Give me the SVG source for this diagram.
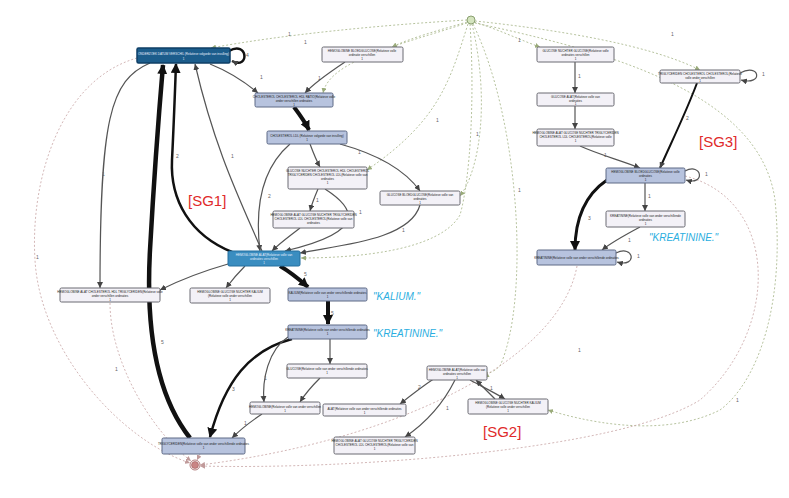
<svg xmlns="http://www.w3.org/2000/svg" width="789" height="498" viewBox="0 0 789 498">
<defs>
<marker id="a" markerWidth="6" markerHeight="6" refX="6" refY="3" orient="auto" markerUnits="userSpaceOnUse"><path d="M0,0 L6,3 L0,6 z" fill="#444"/></marker>
<marker id="aL" markerWidth="10" markerHeight="10" refX="9" refY="5" orient="auto" markerUnits="userSpaceOnUse"><path d="M0,0 L10,5 L0,10 z" fill="#111"/></marker>
<marker id="g" markerWidth="5" markerHeight="5" refX="5" refY="2.5" orient="auto" markerUnits="userSpaceOnUse"><path d="M0,0 L5,2.5 L0,5 z" fill="#9aab7a"/></marker>
<marker id="p" markerWidth="5" markerHeight="5" refX="5" refY="2.5" orient="auto" markerUnits="userSpaceOnUse"><path d="M0,0 L5,2.5 L0,5 z" fill="#c09a9a"/></marker>
</defs>
<style>
.e{fill:none;stroke:#555;stroke-width:1.2}
.t{fill:none;stroke:#111}
.gd{fill:none;stroke:#a4b486;stroke-width:0.8;stroke-dasharray:2,2}
.pd{fill:none;stroke:#c8a4a4;stroke-width:0.8;stroke-dasharray:2,2}
.el{font-family:"Liberation Sans",Arial,sans-serif;font-size:5px;fill:#666}
.lb{fill:#b7c3de;stroke:#5e6a86;stroke-width:1}
.wb{fill:#f3f1f7;stroke:#6a6a72;stroke-width:1}
.db{fill:#1c5d8c;stroke:#0f3f66;stroke-width:1.5}
.mb{fill:#3a8dc0;stroke:#246e9e;stroke-width:1}
.nt{font-family:"Liberation Sans",Arial,sans-serif;font-size:3px;fill:#222;text-anchor:middle}
.nw{font-family:"Liberation Sans",Arial,sans-serif;font-size:3px;fill:#e8f0ff;text-anchor:middle}
.sg{font-family:"Liberation Sans",Arial,sans-serif;font-size:15px;fill:#e02a2a}
.kl{font-family:"Liberation Sans",Arial,sans-serif;font-size:10px;font-style:italic;fill:#2aaee0}
</style>
<rect width="789" height="498" fill="#ffffff"/>
<g id="connectors">
<path class="gd" d="M467,20 C380,25 280,35 211,48" marker-end="url(#g)"/>
<path class="gd" d="M467,22 C440,30 410,38 392,47" marker-end="url(#g)"/>
<path class="gd" d="M467,23 C400,45 330,60 323,93" marker-end="url(#g)"/>
<path class="gd" d="M468,24 C450,80 440,120 367,170" marker-end="url(#g)"/>
<path class="gd" d="M470,24 C475,100 470,180 460,215 C440,250 360,258 301,258" marker-end="url(#g)"/>
<path class="gd" d="M472,24 C490,100 480,170 460,196" marker-end="url(#g)"/>
<path class="gd" d="M474,22 C500,30 520,40 540,47" marker-end="url(#g)"/>
<path class="gd" d="M475,21 C560,30 650,45 700,70" marker-end="url(#g)"/>
<path class="gd" d="M473,24 C520,120 530,300 500,366 C490,375 487,373 487,372" marker-end="url(#g)"/>
<path class="gd" d="M475,23 C600,50 760,90 775,200 C785,300 760,380 720,410 C660,440 580,420 548,410" marker-end="url(#g)"/>
<text class="el" x="288" y="36">1</text>
<text class="el" x="304" y="44">1</text>
<text class="el" x="318" y="80">1</text>
<text class="el" x="436" y="122">1</text>
<text class="el" x="476" y="136">1</text>
<text class="el" x="518" y="42">1</text>
<text class="el" x="671" y="36">1</text>
<text class="el" x="518" y="192">1</text>
<text class="el" x="736" y="402">1</text>
<path class="pd" d="M137,58 C60,80 30,180 35,260 C40,350 120,440 190,463" marker-end="url(#p)"/>
<path class="pd" d="M110,303 C110,360 150,430 191,461" marker-end="url(#p)"/>
<path class="pd" d="M577,266 C560,360 400,440 200,465" marker-end="url(#p)"/>
<path class="pd" d="M685,176 C780,200 780,330 700,400 C620,450 350,470 200,466" marker-end="url(#p)"/>
<path class="pd" d="M200,454 L197,460" marker-end="url(#p)"/>
<text class="el" x="36" y="259">1</text>
<text class="el" x="115" y="371">1</text>
<text class="el" x="578" y="352">1</text>
<path class="t" stroke-width="2.5" d="M229,51 C248,40 250,70 232,61" marker-end="url(#a)"/>
<text class="el" x="246" y="57">4</text>
<path class="e" d="M210,64 C230,72 245,82 258,93" marker-end="url(#a)"/>
<text class="el" x="260" y="79">1</text>
<path class="e" d="M345,62 C330,72 315,82 305,93" marker-end="url(#a)"/>
<path class="t" stroke-width="4" d="M294,107 C300,115 305,122 309,130" marker-end="url(#aL)"/>
<path class="e" d="M310,144 C313,152 316,160 320,167" marker-end="url(#a)"/>
<path class="e" d="M340,144 C380,155 405,170 420,191" marker-end="url(#a)"/>
<text class="el" x="358" y="154">1</text>
<path class="e" d="M290,144 C260,170 255,210 260,251" marker-end="url(#a)"/>
<text class="el" x="268" y="198">2</text>
<path class="e" d="M318,189 C315,196 312,203 310,211" marker-end="url(#a)"/>
<text class="el" x="316" y="202">1</text>
<path class="e" d="M325,189 C350,205 375,230 285,251" marker-end="url(#a)"/>
<text class="el" x="359" y="214">1</text>
<path class="e" d="M420,205 C410,240 340,245 300,253" marker-end="url(#a)"/>
<text class="el" x="402" y="232">1</text>
<path class="e" d="M300,228 C290,236 280,243 272,251" marker-end="url(#a)"/>
<path class="t" stroke-width="2.5" d="M232,252 C190,235 170,200 172,160 C174,120 175,90 176,64" marker-end="url(#aL)"/>
<text class="el" x="176" y="158">2</text>
<path class="e" d="M262,251 C240,200 215,150 195,64" marker-end="url(#a)"/>
<text class="el" x="231" y="158">1</text>
<path class="e" d="M150,63 C110,80 100,120 100,288" marker-end="url(#a)"/>
<text class="el" x="102" y="176">1</text>
<path class="e" d="M228,264 C200,272 180,280 160,290" marker-end="url(#a)"/>
<path class="e" d="M245,266 C238,273 232,280 226,288" marker-end="url(#a)"/>
<path class="t" stroke-width="4" d="M280,266 C292,273 300,280 308,287" marker-end="url(#aL)"/>
<text class="el" x="304" y="276">5</text>
<path class="t" stroke-width="4" d="M328,301 C328,309 328,316 328,324" marker-end="url(#aL)"/>
<text class="el" x="331" y="315">5</text>
<path class="e" d="M330,339 C330,348 330,356 330,364" marker-end="url(#a)"/>
<path class="t" stroke-width="2.5" d="M292,339 C250,350 225,380 210,437" marker-end="url(#aL)"/>
<text class="el" x="232" y="391">3</text>
<path class="e" d="M288,337 C268,350 262,380 264,402" marker-end="url(#a)"/>
<text class="el" x="264" y="380">1</text>
<path class="e" d="M320,378 C312,386 305,394 300,402" marker-end="url(#a)"/>
<path class="e" d="M262,414 C250,422 240,430 232,438" marker-end="url(#a)"/>
<text class="el" x="244" y="425">1</text>
<path class="t" stroke-width="4.5" d="M190,438 C160,400 145,340 150,250 C155,160 160,100 163,65" marker-end="url(#aL)"/>
<text class="el" x="161" y="344">5</text>
<path class="e" d="M435,378 C420,388 410,396 400,404" marker-end="url(#a)"/>
<text class="el" x="418" y="389">2</text>
<path class="e" d="M455,380 C445,400 430,420 405,437" marker-end="url(#a)"/>
<text class="el" x="446" y="410">1</text>
<path class="e" d="M470,380 C485,388 495,393 505,399" marker-end="url(#a)"/>
<path class="e" d="M495,399 C488,392 482,386 476,380" marker-end="url(#a)"/>
<text class="el" x="490" y="390">1</text>
<path class="e" d="M575,62 C575,72 575,82 575,93" marker-end="url(#a)"/>
<text class="el" x="578" y="78">1</text>
<path class="e" d="M575,106 C575,114 575,121 575,129" marker-end="url(#a)"/>
<path class="e" d="M580,146 C600,155 620,160 640,168" marker-end="url(#a)"/>
<text class="el" x="604" y="157">1</text>
<path class="e" d="M740,73 C760,62 764,86 741,80" marker-end="url(#a)"/>
<text class="el" x="762" y="76">1</text>
<path class="t" stroke-width="2" d="M697,83 C685,115 670,145 660,168" marker-end="url(#a)"/>
<text class="el" x="686" y="120">2</text>
<path class="e" d="M685,171 C702,162 706,186 686,180" marker-end="url(#a)"/>
<text class="el" x="705" y="176">1</text>
<path class="e" d="M645,183 C645,192 645,202 645,211" marker-end="url(#a)"/>
<text class="el" x="648" y="198">1</text>
<path class="t" stroke-width="3" d="M607,180 C585,195 575,220 575,250" marker-end="url(#aL)"/>
<text class="el" x="588" y="220">3</text>
<path class="e" d="M640,227 C625,235 612,242 602,250" marker-end="url(#a)"/>
<text class="el" x="628" y="242">1</text>
<path class="e" d="M616,253 C634,244 638,268 617,262" marker-end="url(#a)"/>
<text class="el" x="637" y="258">1</text>
</g>
<g id="start"><circle cx="471" cy="20" r="4" fill="#d4e4be" stroke="#8aa070" stroke-width="1"/></g>
<g id="end"><circle cx="195" cy="465" r="5" fill="none" stroke="#a05a5a" stroke-width="0.8"/><circle cx="195" cy="465" r="3.5" fill="#c98585" stroke="#a05a5a" stroke-width="0.6"/></g>
<g id="nA"><rect class="db" x="137" y="48" width="93" height="15" rx="1.5"/><text class="nw" x="183.5" y="55">ONDERZOEK DATUM VERSCHIL (Relatieve volgorde van invulling)</text><text class="nw" x="183.5" y="60">1</text></g>
<g id="nB"><rect class="lb" x="255" y="93" width="78" height="14" rx="1.5"/><text class="nt" x="294" y="98">CHOLESTEROL CHOLESTEROL HDL     RATIO(Relatieve volle</text><text class="nt" x="294" y="102">onder verschillen ordinaties</text><text class="nt" x="294" y="105.5">1</text></g>
<g id="nC"><rect class="wb" x="322" y="47" width="81" height="15" rx="1.5"/><text class="nt" x="362" y="52">HEMOGLOBINE       BLOEDGLUCOSE(Relatieve volle</text><text class="nt" x="362" y="56">ordinatie verschillen</text><text class="nt" x="362" y="60">1</text></g>
<g id="nD"><rect class="lb" x="267" y="131" width="80" height="13" rx="1.5"/><text class="nt" x="307" y="137">CHOLESTEROL LDL (Relatieve volgorde van invulling)</text><text class="nt" x="307" y="141">1</text></g>
<g id="nE"><rect class="wb" x="288" y="167" width="79" height="22" rx="1.5"/><text class="nt" x="327.5" y="172">GLUCOSE NUCHTER  CHOLESTEROL HDL CHOLESTEROL</text><text class="nt" x="327.5" y="176">TRIGLYCERIDEN  CHOLESTEROL LDL(Relatieve volle van</text><text class="nt" x="327.5" y="180">ordinaties</text><text class="nt" x="327.5" y="184">1</text></g>
<g id="nF"><rect class="wb" x="273" y="211" width="81" height="17" rx="1.5"/><text class="nt" x="313.5" y="216">HEMOGLOBINE ALAT  GLUCOSE NUCHTER TRIGLYCERIDEN</text><text class="nt" x="313.5" y="220">CHOLESTEROL LDL  CHOLESTEROL(Relatieve volle van</text><text class="nt" x="313.5" y="224">ordinaties</text></g>
<g id="nG"><rect class="wb" x="380" y="191" width="80" height="14" rx="1.5"/><text class="nt" x="420" y="196">GLUCOSE          BLOEDGLUCOSE(Relatieve volle van</text><text class="nt" x="420" y="200">ordinaties</text><text class="nt" x="420" y="203.5">1</text></g>
<g id="nH"><rect class="mb" x="228" y="251" width="72" height="15" rx="1.5"/><text class="nw" x="264" y="256">HEMOGLOBINE       ALAT(Relatieve volle van</text><text class="nw" x="264" y="260">ordinaties verschillen</text><text class="nw" x="264" y="264">1</text></g>
<g id="nI"><rect class="wb" x="60" y="288" width="100" height="14" rx="1.5"/><text class="nt" x="110" y="293">HEMOGLOBINE ALAT CHOLESTEROL HDL TRIGLYCERIDEN(Relatieve volle</text><text class="nt" x="110" y="297">onder verschillen ordinaties</text><text class="nt" x="110" y="300.5">1</text></g>
<g id="nJ"><rect class="wb" x="190" y="288" width="80" height="15" rx="1.5"/><text class="nt" x="230" y="293">HEMOGLOBINE  GLUCOSE NUCHTER      KALIUM</text><text class="nt" x="230" y="297">(Relatieve volle onder verschillen</text><text class="nt" x="230" y="301">1</text></g>
<g id="nK"><rect class="lb" x="288" y="288" width="79" height="13" rx="1.5"/><text class="nt" x="327.5" y="294">KALIUM(Relatieve volle van onder verschillende ordinaties</text><text class="nt" x="327.5" y="298">1</text></g>
<g id="nL"><rect class="lb" x="288" y="325" width="79" height="14" rx="1.5"/><text class="nt" x="327.5" y="331">KREATININE(Relatieve volle van onder verschillende ordinaties</text><text class="nt" x="327.5" y="335">1</text></g>
<g id="nM"><rect class="wb" x="287" y="364" width="80" height="14" rx="1.5"/><text class="nt" x="327" y="370">GLUCOSE(Relatieve volle van onder verschillende ordinaties</text><text class="nt" x="327" y="374">1</text></g>
<g id="nN"><rect class="wb" x="250" y="402" width="70" height="12" rx="1.5"/><text class="nt" x="285" y="408">HEMOGLOBINE(Relatieve volle van onder verschillen</text><text class="nt" x="285" y="412">1</text></g>
<g id="nO"><rect class="lb" x="162" y="438" width="83" height="16" rx="1.5"/><text class="nt" x="203.5" y="445">TRIGLYCERIDEN(Relatieve volle van onder verschillende ordinaties</text><text class="nt" x="203.5" y="449">1</text></g>
<g id="nP"><rect class="wb" x="427" y="366" width="60" height="14" rx="1.5"/><text class="nt" x="457" y="371">HEMOGLOBINE       ALAT(Relatieve volle van</text><text class="nt" x="457" y="375">ordinaties verschillen</text><text class="nt" x="457" y="378.5">1</text></g>
<g id="nQ"><rect class="wb" x="323" y="404" width="83" height="12" rx="1.5"/><text class="nt" x="364.5" y="410">ALAT(Relatieve volle van onder verschillende ordinaties</text><text class="nt" x="364.5" y="414">1</text></g>
<g id="nR"><rect class="wb" x="334" y="437" width="81" height="17" rx="1.5"/><text class="nt" x="374.5" y="442">HEMOGLOBINE ALAT  GLUCOSE NUCHTER TRIGLYCERIDEN</text><text class="nt" x="374.5" y="446">CHOLESTEROL LDL  CHOLESTEROL(Relatieve volle van</text><text class="nt" x="374.5" y="450">1</text></g>
<g id="nS"><rect class="wb" x="468" y="399" width="80" height="15" rx="1.5"/><text class="nt" x="508" y="404">HEMOGLOBINE  GLUCOSE NUCHTER      KALIUM</text><text class="nt" x="508" y="408">(Relatieve volle onder verschillen</text><text class="nt" x="508" y="412">1</text></g>
<g id="nT"><rect class="wb" x="537" y="47" width="77" height="15" rx="1.5"/><text class="nt" x="575.5" y="52">GLUCOSE NUCHTER     GLUCOSE(Relatieve volle</text><text class="nt" x="575.5" y="56">ordinaties verschillen</text><text class="nt" x="575.5" y="60">1</text></g>
<g id="nU"><rect class="wb" x="537" y="93" width="77" height="13" rx="1.5"/><text class="nt" x="575.5" y="98">GLUCOSE          ALAT(Relatieve volle van</text><text class="nt" x="575.5" y="102">ordinaties</text><text class="nt" x="575.5" y="105">1</text></g>
<g id="nV"><rect class="wb" x="537" y="129" width="77" height="17" rx="1.5"/><text class="nt" x="575.5" y="134">HEMOGLOBINE ALAT  GLUCOSE NUCHTER TRIGLYCERIDEN</text><text class="nt" x="575.5" y="138">CHOLESTEROL LDL  CHOLESTEROL(Relatieve volle</text><text class="nt" x="575.5" y="142">1</text></g>
<g id="nW"><rect class="wb" x="660" y="70" width="80" height="13" rx="1.5"/><text class="nt" x="700" y="75">TRIGLYCERIDEN  CHOLESTEROL  CHOLESTEROL(Relatieve</text><text class="nt" x="700" y="79">volle onder verschillen</text><text class="nt" x="700" y="82">1</text></g>
<g id="nX"><rect class="lb" x="606" y="168" width="79" height="15" rx="1.5"/><text class="nt" x="645.5" y="173">HEMOGLOBINE        BLOEDGLUCOSE(Relatieve volle</text><text class="nt" x="645.5" y="177">ordinaties</text><text class="nt" x="645.5" y="181">1</text></g>
<g id="nY"><rect class="wb" x="606" y="211" width="79" height="16" rx="1.5"/><text class="nt" x="645.5" y="217">KREATININE(Relatieve volle van onder verschillende</text><text class="nt" x="645.5" y="221">ordinaties</text><text class="nt" x="645.5" y="225">1</text></g>
<g id="nZ"><rect class="lb" x="537" y="250" width="79" height="15" rx="1.5"/><text class="nt" x="576.5" y="259">KREATININE(Relatieve volle van onder verschillende ordinaties</text></g>
<g id="labels">
<text class="sg" x="188" y="206">[SG1]</text>
<text class="sg" x="483" y="437">[SG2]</text>
<text class="sg" x="699" y="147">[SG3]</text>
<text class="kl" x="373" y="300">"KALIUM."</text>
<text class="kl" x="373" y="337">"KREATININE."</text>
<text class="kl" x="649" y="241">"KREATININE."</text>
</g>
</svg>
